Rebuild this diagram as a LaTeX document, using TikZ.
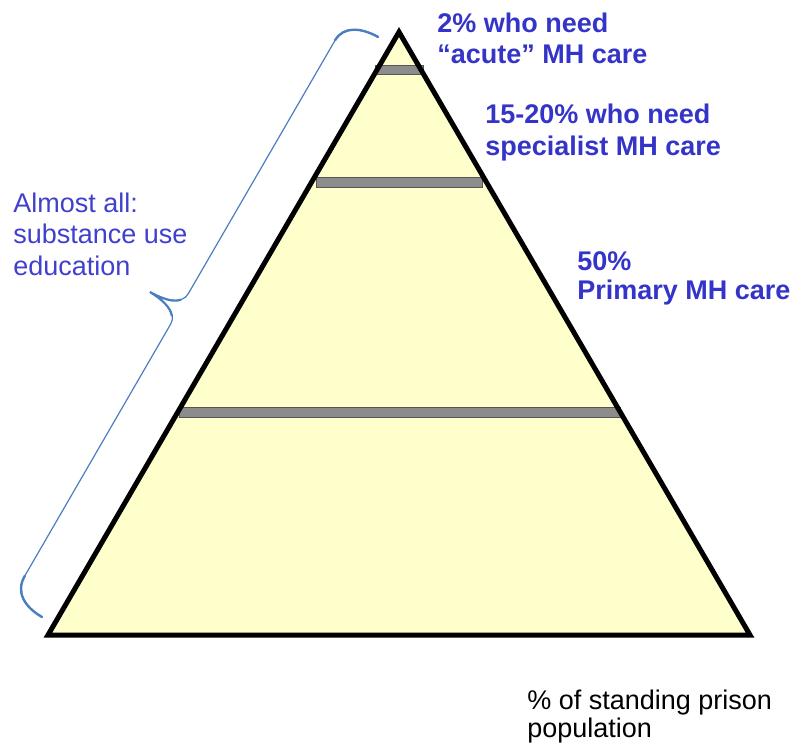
\documentclass[tikz,border=0pt]{standalone}
\usepackage{fontspec}
\setmainfont{Liberation Sans}
\definecolor{pyrfill}{RGB}{255,255,204}
\definecolor{bargray}{RGB}{140,140,140}
\definecolor{barline}{RGB}{85,85,85}
\definecolor{lblblue}{RGB}{52,52,200}
\definecolor{lblblue2}{RGB}{64,64,206}
\definecolor{bracecol}{RGB}{74,126,190}
\tikzset{
  levelbar/.style={fill=bargray, draw=barline, line width=0.7pt},
  boldlbl/.style={anchor=base west, inner sep=0pt, align=left, text=lblblue, font=\bfseries\fontsize{20.25}{23.25}\selectfont},
  plainlbl/.style={anchor=base west, inner sep=0pt, align=left, font=\fontsize{20.25}{23.6}\selectfont},
  bracestroke/.style={draw=bracecol, line width=0.9pt, line cap=round}
}
\begin{document}
\begin{tikzpicture}[x=0.75pt,y=-0.75pt]
\path[use as bounding box] (0,0) rectangle (793,747);
% pyramid
\coordinate (apex) at (399,32);
\coordinate (bl) at (48,635);
\coordinate (br) at (750,635);
\fill[pyrfill] (apex) -- (bl) -- (br) -- cycle;
% level bars
\path[levelbar] (375,65) rectangle (423,74);
\path[levelbar] (316,177) rectangle (482,187);
\path[levelbar] (179,407) rectangle (620,417);
\draw[line width=3.75pt, line join=miter] (apex) -- (bl) -- (br) -- cycle;
% brace
\begin{scope}[shift={(42,617)}, x={(0.376pt,0.649pt)}, y={(-0.649pt,0.376pt)}]
  \draw[bracestroke] (0,0) .. controls (0,20) and (8,35.5) .. (27,35.5)
     -- (318,35.5) .. controls (330,35.5) and (335,50) .. (335.3,69.5)
     .. controls (336,50) and (341,35.5) .. (353,35.5)
     -- (646,35.5) .. controls (662,35.5) and (670,20) .. (670.3,0);
  \draw[bracestroke, line width=1.8pt] (0,0) .. controls (0,20) and (8,35.5) .. (27,35.5);
  \draw[bracestroke, line width=1.8pt] (646,35.5) .. controls (662,35.5) and (670,20) .. (670.3,0);
  \draw[bracestroke, line width=1.6pt] (326,39) .. controls (332,44) and (335,55) .. (335.3,69.5)
     .. controls (335.6,55) and (338,44) .. (344,39);
\end{scope}
% labels (base anchor = baseline of last line)
\node[boldlbl] (lbltwo) at (437,63) {2\% who need\\“acute” MH care};
\node[boldlbl, font=\bfseries\fontsize{20.25}{24}\selectfont] (lblfifteen) at (485,155) {15-20\% who need\\specialist MH care};
\node[boldlbl, font=\bfseries\fontsize{20.25}{21.4}\selectfont] (lblfifty) at (577,299) {50\%\\Primary MH care};
\node[plainlbl, text=lblblue2] (lblall) at (13,275) {Almost all:\\substance use\\education};
\node[plainlbl, text=black, font=\fontsize{20.25}{21}\selectfont] (lblpop) at (527,737) {\% of standing prison\\population};
\end{tikzpicture}
\end{document}
